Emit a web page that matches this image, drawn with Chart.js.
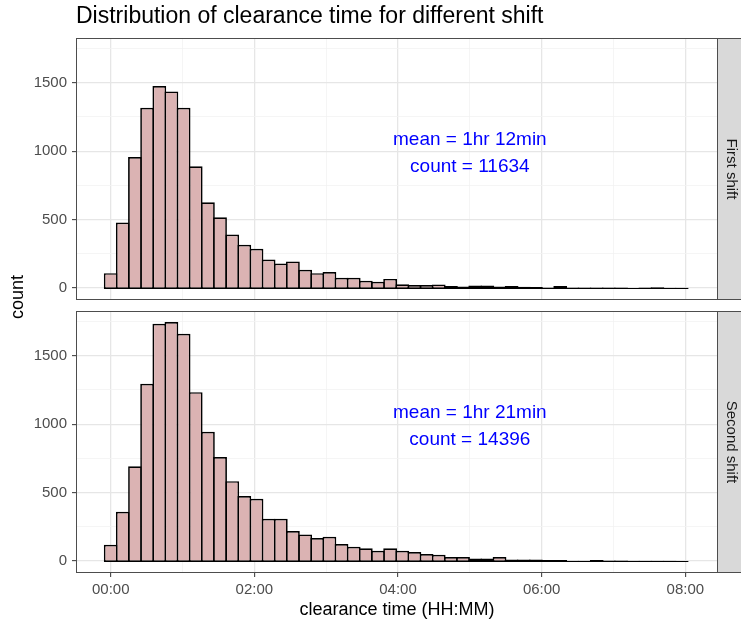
<!DOCTYPE html>
<html>
<head>
<meta charset="utf-8">
<title>Distribution of clearance time for different shift</title>
<script src="https://cdn.jsdelivr.net/npm/chart.js@4.4.1/dist/chart.umd.min.js"></script>
<style>
  html, body { margin: 0; padding: 0; background: #fff; }
  body { width: 741px; height: 623px; position: relative; overflow: hidden; font-family: "Liberation Sans", Arial, sans-serif; }
  canvas { position: absolute; left: 0; }
  #topChart { top: 0; }
  #bottomChart { top: 305px; }
  #yTitle {
    position: absolute; left: -33px; top: 288px; width: 100px; height: 18px;
    line-height: 18px; font-size: 18px; text-align: center; color: #000;
    transform: rotate(-90deg);
  }
</style>
</head>
<body>
<canvas id="topChart" width="741" height="305"></canvas>
<canvas id="bottomChart" width="741" height="318"></canvas>
<div id="yTitle">count</div>
<script>
// bin centres in minutes (48 bins, ~10.15 min wide)
const binCenters = [0, 10.1, 20.3, 30.4, 40.6, 50.7, 60.9, 71.0, 81.2, 91.3, 101.5, 111.6,
  121.8, 131.9, 142.1, 152.2, 162.4, 172.5, 182.7, 192.8, 203.0, 213.1, 223.3, 233.4,
  243.6, 253.7, 263.9, 274.0, 284.2, 294.3, 304.5, 314.6, 324.8, 334.9, 345.1, 355.2,
  365.4, 375.5, 385.7, 395.8, 406.0, 416.1, 426.3, 436.4, 446.6, 456.7, 466.9, 477.0];

const firstShift = [109, 479, 958, 1318, 1476, 1437, 1318, 890, 627, 518, 391, 316,
  287, 209, 180, 195, 134, 109, 117, 75, 75, 53, 46, 67,
  28, 22, 22, 27, 15, 12, 19, 19, 12, 15, 10, 8,
  4, 15, 4, 4, 4, 4, 4, 1, 4, 7, 3, 2];

const secondShift = [119, 360, 692, 1295, 1734, 1746, 1661, 1234, 945, 760, 584, 475,
  455, 309, 309, 219, 195, 168, 178, 124, 105, 93, 75, 94,
  76, 66, 51, 46, 29, 29, 19, 19, 29, 12, 12, 12,
  8, 8, 3, 3, 8, 5, 5, 2, 2, 2, 2, 1];

const shiftNames = ['First shift', 'Second shift'];
const meanLabels = ['mean = 1hr 12min', 'mean = 1hr 21min'];
const countLabels = ['count = 11634', 'count = 14396'];

const xMajorTicks = [0, 120, 240, 360, 480];
const xTickLabels = ['00:00', '02:00', '04:00', '06:00', '08:00'];
const xMinorTicks = [60, 180, 300, 420];
const yMajorTicks = [0, 500, 1000, 1500];
const yTickLabels = ['0', '500', '1000', '1500'];
const yMinorTicks = [250, 750, 1250, 1750];

const FONT = '"Liberation Sans", Arial, sans-serif';
const barLine = 1.7;

const facetPlugin = {
  id: 'facet',
  afterDraw(chart, args, opts) {
    const { ctx, chartArea: a, scales } = chart;
    ctx.save();

    // text label inside the panel
    ctx.fillStyle = '#0000ff';
    ctx.font = '19px ' + FONT;
    ctx.textAlign = 'center';
    ctx.textBaseline = 'alphabetic';
    const px = scales.x.getPixelForValue(300);
    const py = scales.y.getPixelForValue(1000);
    ctx.fillText(opts.mean, px, py - 6.3);
    ctx.fillText(opts.count, px, py + 21);

    // panel border
    ctx.strokeStyle = '#4d4d4d';
    ctx.lineWidth = 1;
    ctx.strokeRect(a.left + 0.5, a.top + 0.5, a.right - a.left - 1, a.bottom - a.top - 1);

    // facet strip on the right
    ctx.fillStyle = '#d9d9d9';
    ctx.fillRect(a.right, a.top, 30, a.bottom - a.top);
    ctx.strokeRect(a.right - 0.5, a.top + 0.5, 30, a.bottom - a.top - 1);
    ctx.save();
    ctx.translate(a.right + 13.5, (a.top + a.bottom) / 2);
    ctx.rotate(Math.PI / 2);
    ctx.fillStyle = '#1a1a1a';
    ctx.font = '15px ' + FONT;
    ctx.textAlign = 'center';
    ctx.textBaseline = 'middle';
    ctx.fillText(opts.strip, 0, 0);
    ctx.restore();

    if (opts.title) {
      ctx.fillStyle = '#000';
      ctx.font = '23px ' + FONT;
      ctx.textAlign = 'left';
      ctx.textBaseline = 'alphabetic';
      ctx.fillText(opts.title, 76, 22.7);
    }
    ctx.restore();
  }
};

const tickVal = c => (c && c.tick ? c.tick.value : NaN);
const isMajor = (c, list) => list.indexOf(tickVal(c)) !== -1;
const noPad = s => { s.paddingTop = 0; s.paddingBottom = 0; s.paddingLeft = 0; s.paddingRight = 0; };

function makeChart(id, counts, idx, showX) {
  const ctx = document.getElementById(id).getContext('2d');
  return new Chart(ctx, {
    type: 'bar',
    data: {
      datasets: [{
        data: binCenters.map((x, i) => ({ x: x, y: counts[i] })),
        backgroundColor: '#dbb3b3',
        borderColor: '#000',
        borderWidth: barLine,
        borderSkipped: false,
        base: -6,
        barPercentage: 1.14,
        categoryPercentage: 1
      }]
    },
    options: {
      responsive: false,
      animation: false,
      devicePixelRatio: 1,
      layout: { padding: showX ? { top: 6, right: 23, bottom: 0, left: 0 } : { top: 38, right: 23, bottom: 5, left: 0 } },
      plugins: {
        legend: { display: false },
        tooltip: { enabled: false },
        facet: {
          strip: shiftNames[idx],
          mean: meanLabels[idx],
          count: countLabels[idx],
          title: showX ? null : 'Distribution of clearance time for different shift'
        }
      },
      scales: {
        x: {
          type: 'linear',
          offset: false,
          min: -29,
          max: 507.3,
          afterFit: s => { s.height = showX ? 50 : 0; noPad(s); },
          afterBuildTicks: s => {
            s.ticks = xMajorTicks.concat(xMinorTicks).sort((a, b) => a - b).map(v => ({ value: v }));
          },
          border: { display: false },
          grid: {
            offset: false,
            color: c => isMajor(c, xMajorTicks) ? '#e6e6e6' : '#f2f2f2',
            lineWidth: c => isMajor(c, xMajorTicks) ? 1.3 : 0.8,
            drawTicks: showX,
            tickLength: 4,
            tickColor: c => isMajor(c, xMajorTicks) ? '#333' : 'rgba(0,0,0,0)',
            tickWidth: 1
          },
          ticks: {
            display: showX,
            autoSkip: false,
            maxRotation: 0,
            padding: 4,
            color: '#4d4d4d',
            font: { family: FONT, size: 15 },
            callback: v => {
              const i = xMajorTicks.indexOf(v);
              return i === -1 ? '' : xTickLabels[i];
            }
          },
          title: {
            display: showX,
            text: 'clearance time (HH:MM)',
            color: '#000',
            font: { family: FONT, size: 18 },
            padding: { top: 0, bottom: 2 }
          }
        },
        y: {
          min: -87,
          max: 1827,
          afterFit: s => { s.width = 76; noPad(s); },
          afterBuildTicks: s => {
            s.ticks = yMajorTicks.concat(yMinorTicks).sort((a, b) => a - b).map(v => ({ value: v }));
          },
          border: { display: false },
          grid: {
            color: c => isMajor(c, yMajorTicks) ? '#e6e6e6' : '#f2f2f2',
            lineWidth: c => isMajor(c, yMajorTicks) ? 1.3 : 0.8,
            tickLength: 4,
            tickColor: c => isMajor(c, yMajorTicks) ? '#333' : 'rgba(0,0,0,0)',
            tickWidth: 1
          },
          ticks: {
            padding: 5,
            color: '#4d4d4d',
            font: { family: FONT, size: 15 },
            callback: v => {
              const i = yMajorTicks.indexOf(v);
              return i === -1 ? '' : yTickLabels[i];
            }
          }
        }
      }
    },
    plugins: [facetPlugin]
  });
}

makeChart('topChart', firstShift, 0, false);
makeChart('bottomChart', secondShift, 1, true);
</script>
</body>
</html>
